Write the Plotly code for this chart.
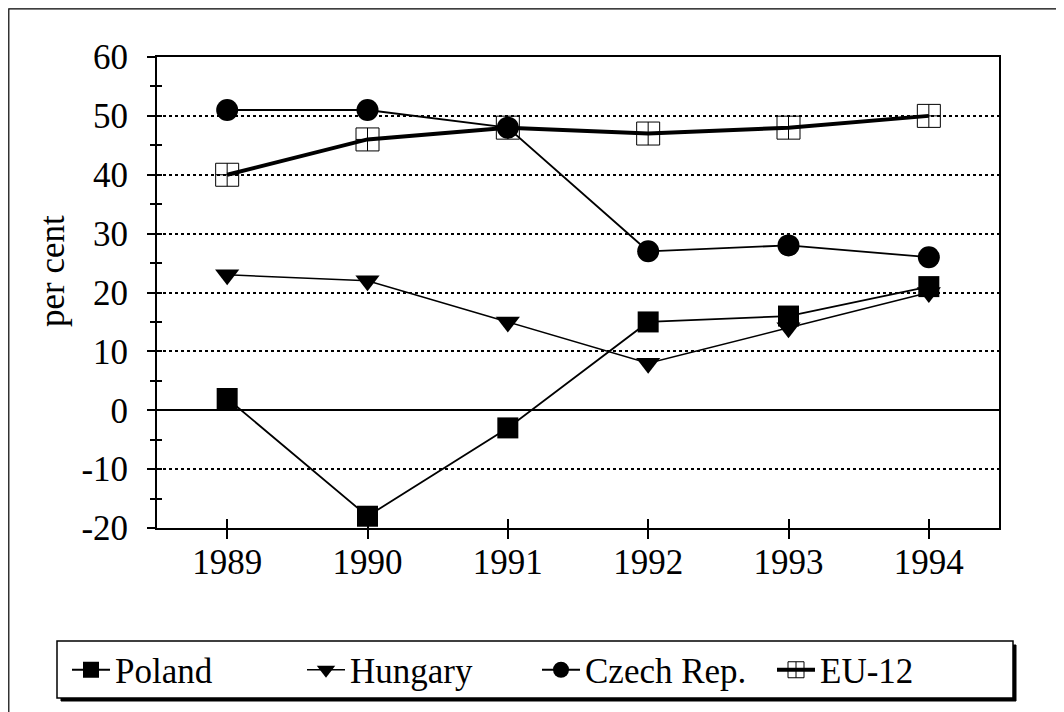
import plotly.graph_objects as go

years = ["1989", "1990", "1991", "1992", "1993", "1994"]
poland = [2, -18, -3, 15, 16, 21]
hungary = [23, 22, 15, 8, 14, 20]
czech = [51, 51, 48, 27, 28, 26]
eu12 = [40, 46, 48, 47, 48, 50]
y_ticks = [-20, -10, 0, 10, 20, 30, 40, 50, 60]
y_ticktext = [str(v) for v in y_ticks]

FONT = "Liberation Serif"
FS = 35

# reference-pixel -> paper coordinate helpers (plot area spans x 157..999, y 57..528)
def px(x):
    return (x - 157) / 842

def py(y):
    return (528 - y) / 471

fig = go.Figure()
fig.add_trace(go.Scatter(x=years, y=poland, name="Poland", mode="lines+markers",
                         line=dict(color="black", width=1.8),
                         marker=dict(symbol="square", size=21, color="black")))
fig.add_trace(go.Scatter(x=years, y=hungary, name="Hungary", mode="lines+markers",
                         line=dict(color="black", width=1.5),
                         marker=dict(symbol="triangle-down", size=21, color="black")))
fig.add_trace(go.Scatter(x=years, y=czech, name="Czech Rep.", mode="lines+markers",
                         line=dict(color="black", width=1.8),
                         marker=dict(symbol="circle", size=22, color="black")))
fig.add_trace(go.Scatter(x=years, y=eu12, name="EU-12", mode="lines+markers",
                         line=dict(color="black", width=4),
                         marker=dict(symbol="square-cross-open", size=23, color="black",
                                     line=dict(width=1, color="black"))))
# empty helper trace so the overlay axes (inside half of the crossing ticks) are drawn
fig.add_trace(go.Scatter(x=[], y=[], xaxis="x2", yaxis="y2", showlegend=False,
                         hoverinfo="skip"))

fig.update_layout(
    width=1056, height=704,
    margin=dict(l=149, r=65, t=49, b=184),
    paper_bgcolor="white", plot_bgcolor="white",
    font=dict(family=FONT, size=FS, color="black"),
    showlegend=True,
    legend=dict(orientation="h", x=px(67), xanchor="left", y=py(670), yanchor="middle",
                borderwidth=0, bgcolor="rgba(0,0,0,0)",
                font=dict(family=FONT, size=FS),
                entrywidth=182, entrywidthmode="pixels",
                itemwidth=38, tracegroupgap=0),
    xaxis=dict(type="category", range=[-0.5, 5.5], showline=True, linecolor="black",
               linewidth=1.8, mirror=True, ticks="outside", ticklen=9, tickwidth=1.5,
               tickcolor="black", showgrid=False, tickfont=dict(size=FS),
               ticklabelstandoff=-7),
    yaxis=dict(range=[-20, 60], tickvals=y_ticks, ticktext=y_ticktext, showline=True,
               linecolor="black", linewidth=1.8, mirror=True, ticks="outside", ticklen=8,
               tickwidth=1.5, tickcolor="black", showgrid=True, gridcolor="black",
               gridwidth=2, griddash="dot", zeroline=True, zerolinecolor="black",
               zerolinewidth=1.8,
               minor=dict(dtick=5, ticks="outside", ticklen=5, tickwidth=1.5,
                          tickcolor="black", showgrid=False),
               tickfont=dict(size=FS), ticklabelstandoff=12),
    xaxis2=dict(overlaying="x", anchor="y", side="bottom", type="linear",
                range=[1988.5, 1994.5], tickmode="linear", dtick=1, tick0=1989,
                ticks="inside", ticklen=9, tickwidth=1.5, tickcolor="black",
                showticklabels=False, showgrid=False, showline=False, zeroline=False,
                fixedrange=True),
    yaxis2=dict(overlaying="y", anchor="x", side="left", range=[-20, 60],
                tickmode="linear", dtick=5, tick0=0, ticks="inside", ticklen=5,
                tickwidth=1.5, tickcolor="black", showticklabels=False,
                showgrid=False, showline=False, zeroline=False, fixedrange=True),
    annotations=[dict(text="per cent", xref="paper", yref="paper", x=px(52), y=py(271),
                      xanchor="center", yanchor="middle", textangle=-90, showarrow=False,
                      font=dict(family=FONT, size=FS))],
)

# outer frame around the figure
fig.add_shape(type="rect", xref="paper", yref="paper",
              x0=px(8.8), x1=px(1062), y0=py(730), y1=py(8.8),
              line=dict(color="black", width=1.2), fillcolor="rgba(0,0,0,0)", layer="below")
# legend shadow and box
fig.add_shape(type="rect", xref="paper", yref="paper",
              x0=px(61), x1=px(1016), y0=py(701), y1=py(645),
              line=dict(color="black", width=1), fillcolor="black", layer="below")
fig.add_shape(type="rect", xref="paper", yref="paper",
              x0=px(57), x1=px(1013), y0=py(698), y1=py(641),
              line=dict(color="black", width=1.5), fillcolor="white", layer="below")

fig.write_html("out.html")
